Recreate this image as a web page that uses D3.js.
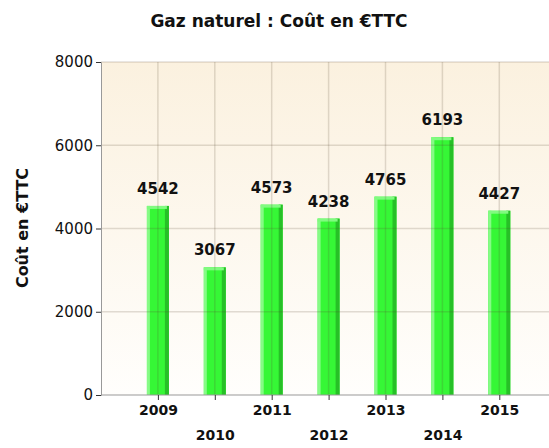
<!DOCTYPE html>
<meta charset="utf-8">
<title>Gaz naturel</title>
<script src="https://d3js.org/d3.v7.min.js"></script>
<style>
  body { margin: 0; background: #fff; font-family: "DejaVu Sans", sans-serif; }
</style>
<div id="chart"></div>
<script>
  // data
  var years = [2009, 2010, 2011, 2012, 2013, 2014, 2015];
  var costs = [4542, 3067, 4573, 4238, 4765, 6193, 4427];
  var yTicks = [0, 2000, 4000, 6000, 8000];

  var W = 549, H = 448;
  var plotLeft = 101, plotTop = 62, plotBottom = 395;

  var svg = d3.select("#chart").append("svg")
      .attr("width", W).attr("height", H);

  // linear year scale, plot continues past the right edge
  var x = d3.scaleLinear().domain([2008, 2016]).range([plotLeft, plotLeft + 8 * 56.9]);
  var y = d3.scaleLinear().domain([0, 8000]).range([plotBottom, plotTop]);

  var grad = svg.append("defs").append("linearGradient")
      .attr("id", "bg").attr("x1", 0).attr("y1", 0).attr("x2", 0).attr("y2", 1);
  grad.append("stop").attr("offset", "0%").attr("stop-color", "#fbf1df");
  grad.append("stop").attr("offset", "100%").attr("stop-color", "#fffefc");

  svg.append("rect")
    .attr("x", plotLeft).attr("y", plotTop)
    .attr("width", W - plotLeft).attr("height", plotBottom - plotTop)
    .attr("fill", "url(#bg)");

  // bars
  var bw = 22;
  var bars = svg.selectAll(".bar").data(years).enter().append("g").attr("class", "bar");
  bars.append("rect")
    .attr("x", function(d) { return x(d) - bw / 2; })
    .attr("y", function(d, i) { return y(costs[i]); })
    .attr("width", bw)
    .attr("height", function(d, i) { return plotBottom - y(costs[i]); })
    .attr("fill", "#36f736");
  // left highlight
  bars.append("rect")
    .attr("x", function(d) { return x(d) - bw / 2; })
    .attr("y", function(d, i) { return y(costs[i]); })
    .attr("width", 3)
    .attr("height", function(d, i) { return plotBottom - y(costs[i]); })
    .attr("fill", "#86fb86");
  // right shade
  bars.append("rect")
    .attr("x", function(d) { return x(d) + bw / 2 - 4; })
    .attr("y", function(d, i) { return y(costs[i]); })
    .attr("width", 4)
    .attr("height", function(d, i) { return plotBottom - y(costs[i]); })
    .attr("fill", "#27c027");
  // top cap
  bars.append("rect")
    .attr("x", function(d) { return x(d) - bw / 2; })
    .attr("y", function(d, i) { return y(costs[i]); })
    .attr("width", bw - 2)
    .attr("height", 3)
    .attr("fill", "#80fb80");

  // grid over the bars
  svg.append("g").selectAll("line").data(years.concat([2016])).enter().append("line")
    .attr("x1", function(d) { return x(d); }).attr("x2", function(d) { return x(d); })
    .attr("y1", plotTop).attr("y2", plotBottom)
    .attr("stroke", "rgba(90,70,50,0.18)").attr("stroke-width", 1.5);
  svg.append("g").selectAll("line").data(yTicks.slice(1)).enter().append("line")
    .attr("x1", plotLeft).attr("x2", W)
    .attr("y1", function(d) { return y(d); }).attr("y2", function(d) { return y(d); })
    .attr("stroke", "rgba(90,70,50,0.18)").attr("stroke-width", 1.5);

  // y axis
  var yAxis = svg.append("g")
    .attr("transform", "translate(" + plotLeft + ",0)")
    .call(d3.axisLeft(y).tickValues(yTicks).tickSize(5).tickPadding(3).tickFormat(d3.format("d")));
  yAxis.select(".domain").attr("stroke", "#999");
  yAxis.selectAll(".tick line").attr("stroke", "#333");
  yAxis.selectAll("text")
    .attr("fill", "#111").style("font-size", "15px")
    .style("font-family", "'DejaVu Sans', sans-serif");

  // x axis
  var xAxis = svg.append("g")
    .attr("transform", "translate(0," + plotBottom + ")")
    .call(d3.axisBottom(x).tickValues(years).tickSize(5).tickFormat(d3.format("d")));
  xAxis.select(".domain").attr("stroke", "#999").attr("d", "M" + plotLeft + ",0H" + W);
  xAxis.selectAll(".tick line").attr("stroke", "#333");
  xAxis.selectAll("text")
    .attr("fill", "#111").style("font-size", "14px").style("font-weight", "bold")
    .style("font-family", "'DejaVu Sans', sans-serif")
    .attr("y", function(d, i) { return i % 2 ? 35 : 10; });

  // value labels
  svg.selectAll(".val").data(years).enter().append("text")
    .attr("x", function(d) { return x(d); })
    .attr("y", function(d, i) { return y(costs[i]) - 12; })
    .attr("text-anchor", "middle")
    .style("font-size", "15px").style("font-weight", "bold").attr("fill", "#111")
    .text(function(d, i) { return costs[i]; });

  // title
  svg.append("text")
    .attr("x", 279).attr("y", 27)
    .attr("text-anchor", "middle")
    .style("font-size", "17px").style("font-weight", "bold").attr("fill", "#111")
    .text("Gaz naturel : Coût en €TTC");

  // y label
  svg.append("text")
    .attr("transform", "translate(28,228) rotate(-90)")
    .attr("text-anchor", "middle")
    .style("font-size", "16px").style("font-weight", "bold").attr("fill", "#111")
    .text("Coût en €TTC");
</script>
